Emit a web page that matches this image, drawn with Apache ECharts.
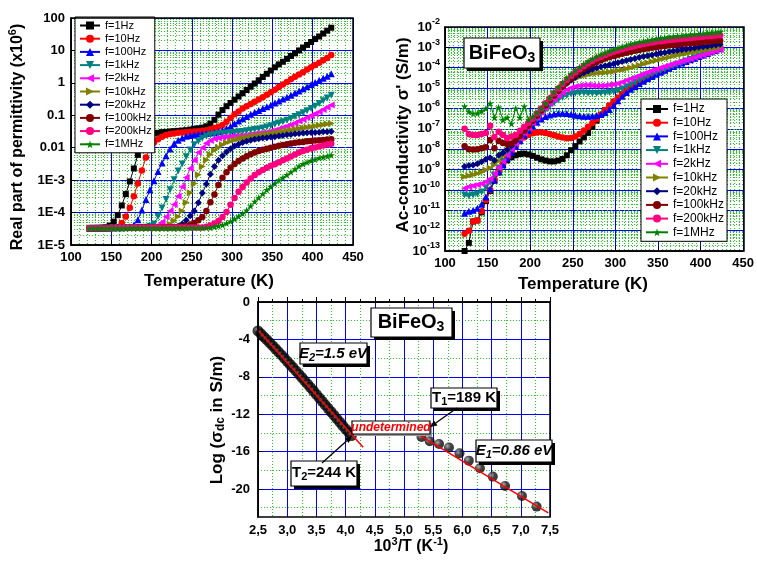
<!DOCTYPE html>
<html><head><meta charset="utf-8">
<script src="https://cdn.jsdelivr.net/npm/echarts/dist/echarts.min.js"></script>
<style>html,body{margin:0;padding:0;background:#fff;}#c{width:757px;height:561px;}</style>
</head><body><div id="c"></div>
<script>
const FONT = '"Liberation Sans", Arial, sans-serif';

// ---------- DATA ----------
// Temperatures (K) shared by the two top panels
const T = [123,128,133,138,143,148,153,158,163,168,173,178,183,188,193,198,203,208,213,218,223,228,233,238,243,248,253,258,263,268,273,278,283,288,293,298,303,308,313,318,323,328,333,338,343,348,353,358,363,368,373,378,383,388,393,398,403,408,413,418,423];
const freqNames = ['f=1Hz','f=10Hz','f=100Hz','f=1kHz','f=2kHz','f=10kHz','f=20kHz','f=100kHz','f=200kHz','f=1MHz'];

// Panel 1: log10 of real permittivity (x10^6)
const eps1Hz = [-4.48,-4.48,-4.47,-4.47,-4.45,-4.40,-4.28,-4.08,-3.78,-3.43,-3.04,-2.64,-2.22,-1.88,-1.70,-1.61,-1.56,-1.54,-1.52,-1.51,-1.50,-1.49,-1.48,-1.47,-1.46,-1.44,-1.42,-1.40,-1.38,-1.34,-1.26,-1.14,-0.98,-0.84,-0.72,-0.62,-0.52,-0.42,-0.32,-0.22,-0.12,-0.02,0.08,0.18,0.28,0.38,0.48,0.57,0.65,0.74,0.83,0.91,1.00,1.09,1.17,1.26,1.35,1.43,1.52,1.61,1.70];
const eps10Hz = [-4.48,-4.48,-4.48,-4.47,-4.47,-4.47,-4.46,-4.45,-4.32,-4.12,-3.85,-3.50,-3.10,-2.70,-2.30,-2.00,-1.84,-1.74,-1.66,-1.61,-1.58,-1.56,-1.54,-1.53,-1.52,-1.51,-1.50,-1.49,-1.48,-1.46,-1.43,-1.39,-1.35,-1.30,-1.20,-1.08,-0.97,-0.88,-0.79,-0.72,-0.65,-0.58,-0.51,-0.44,-0.37,-0.29,-0.21,-0.13,-0.05,0.03,0.11,0.19,0.26,0.33,0.41,0.48,0.55,0.62,0.70,0.77,0.86];
const eps100Hz = [-4.48,-4.48,-4.48,-4.48,-4.48,-4.47,-4.47,-4.47,-4.47,-4.46,-4.44,-4.38,-4.22,-3.92,-3.60,-3.30,-3.02,-2.73,-2.47,-2.25,-2.04,-1.87,-1.77,-1.70,-1.65,-1.62,-1.60,-1.58,-1.57,-1.56,-1.55,-1.53,-1.50,-1.46,-1.41,-1.34,-1.26,-1.18,-1.11,-1.04,-0.97,-0.91,-0.85,-0.79,-0.74,-0.68,-0.62,-0.56,-0.50,-0.44,-0.38,-0.31,-0.25,-0.18,-0.12,-0.05,0.01,0.08,0.14,0.20,0.28];
const eps1kHz = [-4.48,-4.48,-4.48,-4.48,-4.48,-4.48,-4.47,-4.47,-4.47,-4.47,-4.47,-4.46,-4.46,-4.46,-4.45,-4.42,-4.35,-4.12,-3.86,-3.60,-3.30,-2.99,-2.72,-2.50,-2.28,-2.07,-1.91,-1.80,-1.71,-1.65,-1.61,-1.59,-1.57,-1.56,-1.55,-1.54,-1.53,-1.51,-1.50,-1.48,-1.46,-1.44,-1.42,-1.39,-1.36,-1.32,-1.28,-1.24,-1.20,-1.15,-1.10,-1.04,-0.98,-0.92,-0.86,-0.79,-0.72,-0.64,-0.55,-0.47,-0.38];
const eps2kHz = [-4.48,-4.48,-4.48,-4.48,-4.48,-4.47,-4.47,-4.47,-4.47,-4.47,-4.47,-4.46,-4.46,-4.46,-4.46,-4.45,-4.44,-4.40,-4.30,-4.13,-3.95,-3.75,-3.50,-3.20,-2.92,-2.64,-2.39,-2.15,-2.00,-1.86,-1.78,-1.72,-1.70,-1.68,-1.67,-1.66,-1.65,-1.64,-1.63,-1.62,-1.60,-1.58,-1.56,-1.54,-1.52,-1.49,-1.46,-1.42,-1.38,-1.34,-1.29,-1.24,-1.18,-1.13,-1.07,-1.01,-0.95,-0.89,-0.82,-0.75,-0.68];
const eps10kHz = [-4.48,-4.48,-4.48,-4.48,-4.48,-4.48,-4.47,-4.47,-4.47,-4.47,-4.47,-4.47,-4.46,-4.46,-4.46,-4.46,-4.46,-4.45,-4.45,-4.44,-4.36,-4.25,-4.12,-3.95,-3.69,-3.39,-3.10,-2.83,-2.58,-2.38,-2.21,-2.08,-1.99,-1.91,-1.85,-1.80,-1.76,-1.73,-1.70,-1.68,-1.66,-1.64,-1.62,-1.60,-1.58,-1.56,-1.54,-1.52,-1.50,-1.47,-1.45,-1.43,-1.41,-1.39,-1.37,-1.35,-1.33,-1.31,-1.29,-1.27,-1.25];
const eps20kHz = [-4.48,-4.48,-4.48,-4.48,-4.48,-4.48,-4.47,-4.47,-4.47,-4.47,-4.47,-4.47,-4.46,-4.46,-4.46,-4.46,-4.46,-4.46,-4.45,-4.45,-4.45,-4.44,-4.42,-4.35,-4.24,-4.10,-3.95,-3.70,-3.40,-3.12,-2.82,-2.58,-2.39,-2.25,-2.13,-2.03,-1.95,-1.89,-1.84,-1.80,-1.77,-1.74,-1.72,-1.70,-1.69,-1.67,-1.66,-1.64,-1.62,-1.60,-1.59,-1.57,-1.56,-1.55,-1.54,-1.53,-1.53,-1.52,-1.51,-1.51,-1.50];
const eps100kHz = [-4.48,-4.48,-4.48,-4.48,-4.48,-4.48,-4.47,-4.47,-4.47,-4.47,-4.47,-4.47,-4.46,-4.46,-4.46,-4.46,-4.46,-4.46,-4.45,-4.45,-4.45,-4.45,-4.44,-4.43,-4.42,-4.37,-4.32,-4.24,-4.14,-3.95,-3.68,-3.44,-3.15,-2.93,-2.76,-2.62,-2.50,-2.41,-2.33,-2.26,-2.20,-2.15,-2.10,-2.06,-2.03,-2.00,-1.97,-1.94,-1.92,-1.89,-1.87,-1.85,-1.83,-1.82,-1.80,-1.79,-1.78,-1.77,-1.76,-1.75,-1.74];
const eps200kHz = [-4.48,-4.48,-4.48,-4.48,-4.48,-4.48,-4.48,-4.47,-4.47,-4.47,-4.47,-4.47,-4.47,-4.47,-4.47,-4.46,-4.46,-4.46,-4.46,-4.46,-4.46,-4.46,-4.46,-4.46,-4.46,-4.46,-4.46,-4.46,-4.46,-4.44,-4.40,-4.34,-4.26,-4.14,-3.98,-3.76,-3.55,-3.36,-3.21,-3.07,-2.95,-2.84,-2.76,-2.69,-2.62,-2.56,-2.51,-2.45,-2.39,-2.33,-2.27,-2.21,-2.15,-2.10,-2.06,-2.02,-1.99,-1.96,-1.93,-1.90,-1.88];
const eps1MHz = [-4.49,-4.49,-4.49,-4.49,-4.49,-4.49,-4.49,-4.49,-4.49,-4.49,-4.48,-4.48,-4.48,-4.48,-4.48,-4.48,-4.48,-4.48,-4.48,-4.48,-4.48,-4.48,-4.48,-4.48,-4.48,-4.47,-4.47,-4.47,-4.47,-4.47,-4.47,-4.44,-4.41,-4.38,-4.33,-4.27,-4.20,-4.12,-4.03,-3.93,-3.80,-3.66,-3.54,-3.42,-3.30,-3.20,-3.10,-3.00,-2.92,-2.84,-2.75,-2.66,-2.57,-2.50,-2.45,-2.40,-2.36,-2.32,-2.29,-2.26,-2.23];
const epsTickLabels = {'2':'100','1':'10','0':'1','-1':'0.1','-2':'0.01','-3':'1E-3','-4':'1E-4','-5':'1E-5'};

// Panel 2: log10 of ac conductivity (S/m)
const sig1Hz = [-13.0,-12.6,-11.55,-11.5,-11.1,-10.55,-10.05,-9.55,-9.15,-8.8,-8.55,-8.4,-8.3,-8.24,-8.22,-8.26,-8.33,-8.42,-8.5,-8.56,-8.6,-8.6,-8.56,-8.48,-8.3,-8.05,-7.85,-7.62,-7.42,-7.2,-6.9,-6.6,-6.32,-6.08,-5.87,-5.67,-5.48,-5.3,-5.13,-4.98,-4.85,-4.73,-4.62,-4.51,-4.41,-4.31,-4.21,-4.12,-4.03,-3.94,-3.85,-3.77,-3.69,-3.61,-3.53,-3.45,-3.38,-3.3,-3.23,-3.15,-3.08];
const sig10Hz = [-12.15,-12.0,-11.55,-11.5,-11.05,-10.5,-10.0,-9.5,-9.05,-8.7,-8.4,-8.1,-7.85,-7.6,-7.42,-7.3,-7.22,-7.18,-7.17,-7.2,-7.25,-7.32,-7.38,-7.43,-7.46,-7.45,-7.38,-7.25,-7.08,-6.9,-6.72,-6.52,-6.3,-6.07,-5.86,-5.66,-5.47,-5.29,-5.12,-4.97,-4.84,-4.72,-4.61,-4.5,-4.4,-4.3,-4.2,-4.11,-4.02,-3.93,-3.84,-3.76,-3.68,-3.6,-3.52,-3.44,-3.37,-3.29,-3.22,-3.14,-3.07];
const sig100Hz = [-11.15,-11.05,-11.0,-10.9,-10.7,-10.35,-9.95,-9.5,-9.1,-8.75,-8.45,-8.15,-7.85,-7.58,-7.32,-7.08,-6.86,-6.68,-6.52,-6.4,-6.32,-6.27,-6.24,-6.23,-6.25,-6.29,-6.33,-6.36,-6.38,-6.38,-6.37,-6.35,-6.3,-6.2,-6.05,-5.85,-5.62,-5.4,-5.22,-5.06,-4.92,-4.78,-4.66,-4.54,-4.43,-4.32,-4.22,-4.12,-4.03,-3.94,-3.85,-3.77,-3.69,-3.61,-3.53,-3.45,-3.37,-3.3,-3.22,-3.14,-3.07];
const sig1kHz = [-10.25,-10.3,-10.25,-10.2,-10.1,-9.9,-9.62,-9.28,-8.92,-8.6,-8.3,-8.0,-7.74,-7.48,-7.23,-6.98,-6.74,-6.5,-6.28,-6.08,-5.9,-5.73,-5.58,-5.46,-5.36,-5.29,-5.25,-5.24,-5.24,-5.25,-5.26,-5.26,-5.25,-5.24,-5.22,-5.18,-5.12,-5.04,-4.94,-4.84,-4.73,-4.62,-4.52,-4.42,-4.32,-4.23,-4.15,-4.07,-3.99,-3.91,-3.83,-3.75,-3.67,-3.59,-3.51,-3.44,-3.36,-3.29,-3.21,-3.14,-3.07];
const sig2kHz = [-9.92,-9.85,-9.8,-9.75,-9.7,-9.6,-9.45,-9.2,-8.9,-8.6,-8.3,-8.0,-7.72,-7.46,-7.2,-6.95,-6.7,-6.45,-6.2,-5.98,-5.76,-5.56,-5.38,-5.22,-5.08,-4.98,-4.92,-4.88,-4.86,-4.86,-4.87,-4.88,-4.88,-4.87,-4.85,-4.82,-4.77,-4.7,-4.62,-4.54,-4.46,-4.38,-4.3,-4.22,-4.14,-4.07,-4.0,-3.93,-3.86,-3.8,-3.74,-3.68,-3.62,-3.56,-3.5,-3.43,-3.37,-3.3,-3.24,-3.17,-3.1];
const sig10kHz = [-9.35,-9.3,-9.25,-9.2,-9.12,-9.02,-8.92,-8.78,-8.58,-8.34,-8.08,-7.82,-7.56,-7.3,-7.05,-6.8,-6.55,-6.3,-6.05,-5.8,-5.57,-5.35,-5.15,-4.96,-4.8,-4.66,-4.55,-4.46,-4.39,-4.34,-4.3,-4.27,-4.25,-4.23,-4.21,-4.18,-4.14,-4.1,-4.05,-4.0,-3.94,-3.88,-3.82,-3.76,-3.7,-3.64,-3.58,-3.53,-3.48,-3.43,-3.38,-3.34,-3.3,-3.26,-3.22,-3.18,-3.14,-3.1,-3.06,-3.02,-2.98];
const sig20kHz = [-8.85,-8.8,-8.78,-8.72,-8.62,-8.5,-8.42,-8.55,-8.3,-8.18,-8.02,-7.84,-7.6,-7.35,-7.1,-6.85,-6.6,-6.35,-6.1,-5.85,-5.6,-5.37,-5.15,-4.95,-4.77,-4.61,-4.47,-4.35,-4.25,-4.16,-4.08,-4.01,-3.95,-3.9,-3.85,-3.8,-3.75,-3.7,-3.65,-3.6,-3.55,-3.5,-3.45,-3.41,-3.37,-3.33,-3.29,-3.25,-3.21,-3.18,-3.15,-3.12,-3.09,-3.06,-3.03,-3.0,-2.97,-2.94,-2.91,-2.88,-2.85];
const sig100kHz = [-7.85,-8.0,-8.02,-8.0,-7.96,-7.9,-7.55,-7.95,-7.6,-7.7,-7.75,-7.72,-7.55,-7.35,-7.1,-6.85,-6.6,-6.35,-6.1,-5.85,-5.6,-5.37,-5.14,-4.92,-4.72,-4.53,-4.36,-4.2,-4.06,-3.93,-3.82,-3.72,-3.63,-3.55,-3.48,-3.42,-3.36,-3.31,-3.26,-3.21,-3.17,-3.13,-3.09,-3.05,-3.02,-2.99,-2.96,-2.93,-2.9,-2.88,-2.86,-2.84,-2.82,-2.8,-2.78,-2.76,-2.74,-2.72,-2.7,-2.68,-2.66];
const sig200kHz = [-7.0,-7.25,-7.3,-7.3,-7.25,-7.2,-6.85,-7.4,-7.15,-7.3,-7.45,-7.38,-7.3,-7.1,-6.9,-6.7,-6.5,-6.25,-6.0,-5.75,-5.5,-5.25,-5.02,-4.8,-4.59,-4.4,-4.22,-4.06,-3.91,-3.78,-3.66,-3.55,-3.46,-3.37,-3.29,-3.22,-3.15,-3.09,-3.03,-2.98,-2.93,-2.88,-2.84,-2.8,-2.76,-2.73,-2.7,-2.67,-2.64,-2.62,-2.6,-2.58,-2.56,-2.54,-2.52,-2.5,-2.48,-2.46,-2.44,-2.42,-2.4];
const sig1MHz = [-5.9,-6.15,-6.25,-6.24,-6.12,-6.0,-5.75,-6.45,-5.95,-6.55,-6.45,-6.75,-6.0,-6.45,-5.9,-6.55,-6.4,-6.2,-6.0,-5.75,-5.48,-5.2,-4.95,-4.72,-4.5,-4.3,-4.12,-3.96,-3.81,-3.68,-3.56,-3.45,-3.35,-3.26,-3.18,-3.1,-3.03,-2.96,-2.9,-2.84,-2.79,-2.74,-2.7,-2.66,-2.62,-2.58,-2.55,-2.52,-2.49,-2.46,-2.44,-2.42,-2.4,-2.38,-2.36,-2.34,-2.32,-2.3,-2.28,-2.26,-2.24];

// Panel 3: Arrhenius plot
const dcHighX = [2.50,2.55,2.60,2.65,2.70,2.75,2.80,2.85,2.90,2.95,3.00,3.05,3.10,3.15,3.20,3.25,3.30,3.35,3.40,3.45,3.50,3.55,3.60,3.65,3.70,3.75,3.80,3.85,3.90,3.95,4.00,4.05,4.10];
const dcHighY = [-3.1,-3.4,-3.72,-4.03,-4.35,-4.67,-5.0,-5.33,-5.66,-6.0,-6.34,-6.68,-7.02,-7.37,-7.72,-8.07,-8.43,-8.79,-9.15,-9.52,-9.89,-10.26,-10.63,-11.0,-11.37,-11.74,-12.11,-12.48,-12.85,-13.22,-13.58,-13.93,-14.28];
const dcLowX = [5.30,5.44,5.60,5.77,5.95,6.11,6.30,6.52,6.73,7.02,7.27];
const dcLowY = [-14.45,-14.9,-15.19,-15.57,-16.19,-16.97,-17.79,-18.68,-19.68,-20.75,-21.89];
const fitHighX = [2.5, 4.3], fitHighY = [-3.0, -15.55];
const fitLowX = [5.2, 7.47], fitLowY = [-14.0, -22.55];
const yTicks3 = [0,-4,-8,-12,-16,-20];
const yMinor3 = [-2,-6,-10,-14,-18,-22];
const xTickLabels3 = ['2,5','3,0','3,5','4,0','4,5','5,0','5,5','6,0','6,5','7,0','7,5'];

// ---------- STYLE ----------
const COLORS = ['#000000','#ff0000','#0000ff','#008080','#ff00ff','#808000','#000080','#800000','#ff0080','#008000'];
const STAR = 'path://M50,0 L61,35 L98,35 L68,57 L79,91 L50,70 L21,91 L32,57 L2,35 L39,35 Z';
const SYMB = ['rect','circle','triangle','triangle','triangle','triangle','diamond','circle','circle',STAR];
const ROT = [0,0,0,180,90,-90,0,0,0,0];
const SIZE = [6,6.5,7,7,7,7,7,6.5,6.5,7.5];
const BLUE = '#0000ff', GREEN = '#22cc22';

const epsSets = [eps1Hz,eps10Hz,eps100Hz,eps1kHz,eps2kHz,eps10kHz,eps20kHz,eps100kHz,eps200kHz,eps1MHz];
const sigSets = [sig1Hz,sig10Hz,sig100Hz,sig1kHz,sig2kHz,sig10kHz,sig20kHz,sig100kHz,sig200kHz,sig1MHz];

function mk(g, k, logs){
  return {type:'line', name:freqNames[k], xAxisIndex:g, yAxisIndex:g,
    data: T.map((t,i)=>[t, Math.pow(10, logs[i])]),
    symbol:SYMB[k], symbolRotate:ROT[k], symbolSize:SIZE[k], showSymbol:true,
    lineStyle:{width:1, color:COLORS[k]}, itemStyle:{color:COLORS[k]},
    emphasis:{disabled:true}, animation:false, clip:true};
}
const series = [];
epsSets.forEach((a,k)=>series.push(mk(0,k,a)));
sigSets.forEach((a,k)=>series.push(mk(1,k,a)));
const bandFill = {type:'radial', x:0.35, y:0.35, r:0.7, colorStops:[{offset:0,color:'#6a6a6a'},{offset:0.35,color:'#0c0c0c'},{offset:1,color:'#000'}]};
const ballFill = {type:'radial', x:0.35, y:0.35, r:0.75, colorStops:[{offset:0,color:'#9a9a9a'},{offset:0.45,color:'#151515'},{offset:1,color:'#000'}]};
series.push({type:'scatter', name:'dcHigh', xAxisIndex:2, yAxisIndex:2, data: dcHighX.map((x,i)=>[x,dcHighY[i]]), symbol:'circle', symbolSize:11, itemStyle:{color:bandFill}, animation:false, emphasis:{disabled:true}});
series.push({type:'scatter', name:'dcLow', xAxisIndex:2, yAxisIndex:2, data: dcLowX.map((x,i)=>[x,dcLowY[i]]), symbol:'circle', symbolSize:10, itemStyle:{color:ballFill}, animation:false, emphasis:{disabled:true}});
series.push({type:'line', name:'fitHigh', xAxisIndex:2, yAxisIndex:2, data: fitHighX.map((x,i)=>[x,fitHighY[i]]), showSymbol:false, symbol:'none', lineStyle:{color:'#ff0000', width:1.5}, animation:false, z:5});
series.push({type:'line', name:'fitLow', xAxisIndex:2, yAxisIndex:2, data: fitLowX.map((x,i)=>[x,fitLowY[i]]), showSymbol:false, symbol:'none', lineStyle:{color:'#ff0000', width:1.5}, animation:false, z:5});

const lab = {color:'#000', fontFamily:FONT, fontWeight:'bold', fontSize:13};
const axLine = {show:true, lineStyle:{color:'#000', width:1.5}};
const split = {show:true, lineStyle:{color:BLUE, width:1}};
const minor = {show:true, lineStyle:{color:GREEN, width:1, type:[1,2]}};

const option = {
  backgroundColor:'#fff',
  animation:false,
  grid:[
    {left:71, top:18, width:282, height:227},
    {left:445, top:27, width:299, height:224},
    {left:258, top:302, width:292, height:215}
  ],
  xAxis:[
    {gridIndex:0, type:'value', min:100, max:450, interval:50, axisLine:axLine,
     axisTick:{inside:true, length:5, lineStyle:{color:'#000'}}, minorTick:{show:false, splitNumber:5},
     axisLabel:{...lab, margin:6}, splitLine:split, minorSplitLine:minor},
    {gridIndex:1, type:'value', min:100, max:450, interval:50, axisLine:axLine,
     axisTick:{inside:true, length:5, lineStyle:{color:'#000'}}, minorTick:{show:false, splitNumber:10},
     axisLabel:{...lab, margin:6}, splitLine:split, minorSplitLine:minor},
    {gridIndex:2, type:'value', min:2.5, max:7.5, interval:0.5, axisLine:axLine,
     axisTick:{inside:true, length:5, lineStyle:{color:'#000'}}, minorTick:{show:true, splitNumber:2, length:3, lineStyle:{color:'#000'}},
     axisLabel:{...lab, margin:7, formatter:(v)=>xTickLabels3[Math.round((v-2.5)/0.5)]||''}, splitLine:split, minorSplitLine:minor}
  ],
  yAxis:[
    {gridIndex:0, type:'log', logBase:10, min:1e-5, max:100, interval:1, axisLine:axLine,
     axisTick:{inside:true, length:5, lineStyle:{color:'#000'}}, minorTick:{show:false, splitNumber:9},
     axisLabel:{...lab, margin:6, formatter:(v)=>epsTickLabels[String(Math.round(Math.log10(v)))]||''},
     splitLine:split, minorSplitLine:minor},
    {gridIndex:1, type:'log', logBase:10, min:1e-13, max:1e-2, interval:1, axisLine:axLine,
     axisTick:{inside:true, length:5, lineStyle:{color:'#000'}}, minorTick:{show:false, splitNumber:9},
     axisLabel:{margin:5, formatter:(v)=>'{b|10}{s|'+Math.round(Math.log10(v))+'}',
       rich:{b:{fontFamily:FONT,fontWeight:'bold',fontSize:13,color:'#000',verticalAlign:'middle'},
             s:{fontFamily:FONT,fontWeight:'bold',fontSize:9,color:'#000',verticalAlign:'middle',padding:[0,0,10,0]}}},
     splitLine:split, minorSplitLine:minor},
    {gridIndex:2, type:'value', min:-23, max:0, axisLine:axLine,
     axisTick:{inside:true, length:5, lineStyle:{color:'#000'}, customValues:yTicks3},
     axisLabel:{...lab, margin:8, customValues:yTicks3},
     splitLine:split},
    {gridIndex:2, type:'value', min:-23, max:0, position:'left', axisLine:{show:false},
     axisTick:{show:false, customValues:yMinor3}, axisLabel:{show:false, customValues:yMinor3},
     splitLine:minor}
  ],
  legend:[
    {show:true, orient:'vertical', left:75, top:17, data:freqNames, backgroundColor:'#fff', borderColor:'#000', borderWidth:1,
     padding:[3,3,3,4], itemGap:2.2, itemWidth:20, itemHeight:10, selectedMode:false,
     textStyle:{fontFamily:FONT, fontSize:11, color:'#000'}},
    {show:true, orient:'vertical', left:641, top:99, data:freqNames, backgroundColor:'#fff', borderColor:'#000', borderWidth:1,
     padding:[4,3,3,4], itemGap:1.7, itemWidth:22, itemHeight:10, selectedMode:false,
     textStyle:{fontFamily:FONT, fontSize:12, color:'#000'}}
  ],
  series: series
};

// text boxes, titles and frames
function shadowBox(x,y,w,h,off,shadowColor){
  return [
    {type:'rect', z:100, shape:{x:x+off,y:y+off,width:w,height:h}, style:{fill:shadowColor||'#000'}},
    {type:'rect', z:101, shape:{x:x,y:y,width:w,height:h}, style:{fill:'#fff', stroke:'#000', lineWidth:1.2}}
  ];
}
function txt(x,y,text,rich,extra){
  return Object.assign({type:'text', z:102, x:x, y:y, style:{text:text, rich:rich, align:'center', verticalAlign:'middle', fill:'#000',
    fontFamily:FONT, fontWeight:'bold', fontSize:16}}, extra||{});
}
function arrow(x1,y1,x2,y2){
  const a = Math.atan2(y2-y1, x2-x1), L=7, W=3;
  const bx = x2 - L*Math.cos(a), by = y2 - L*Math.sin(a);
  return [
    {type:'line', z:103, shape:{x1:x1,y1:y1,x2:bx,y2:by}, style:{stroke:'#000', lineWidth:1.3}},
    {type:'polygon', z:103, shape:{points:[[x2,y2],[bx - W*Math.sin(a), by + W*Math.cos(a)],[bx + W*Math.sin(a), by - W*Math.cos(a)]]}, style:{fill:'#000'}}
  ];
}
const R = (fs, bold, italic, color) => ({fontFamily:FONT, fontSize:fs, fontWeight:bold?'bold':'normal', fontStyle:italic?'italic':'normal', fill:color||'#000', verticalAlign:'middle'});
const sup = (fs, up, italic) => Object.assign(R(fs,true,italic), {padding:[0,0,up*2,0]});
const sub = (fs, dn, italic, color) => Object.assign(R(fs,true,italic,color), {padding:[dn*2,0,0,0]});

const frames = [
  {type:'rect', z:90, shape:{x:71,y:18,width:282,height:227}, style:{fill:'none', stroke:'#000', lineWidth:1.5}},
  {type:'rect', z:90, shape:{x:445,y:27,width:299,height:224}, style:{fill:'none', stroke:'#000', lineWidth:1.5}},
  {type:'rect', z:90, shape:{x:258,y:302,width:292,height:215}, style:{fill:'none', stroke:'#000', lineWidth:1.5}}
];

const g = [].concat(
  frames,
  [txt(18,137,'{a|Real part of permittivity (x10}{s|6}{a|)}', {a:R(16,true), s:sup(11,5)}, {rotation:Math.PI/2})],
  [txt(209,281,'{a|Temperature (K)}', {a:R(17,true)})],
  [txt(403,135,'{a|Ac-conductivity σ\' (S/m)}', {a:R(17,true)}, {rotation:Math.PI/2})],
  [txt(583,284,'{a|Temperature (K)}', {a:R(17,true)})],
  [txt(217,420,'{a|Log (σ}{d|dc}{a| in S/m)}', {a:R(17,true), d:sub(12,4)}, {rotation:Math.PI/2})],
  [txt(411,547,'{a|10}{s|3}{a|/T (K}{s|-1}{a|)}', {a:R(16,true), s:sup(11,5)})],
  shadowBox(464,38,76,30,3),
  [txt(502,53,'{a|BiFeO}{d|3}', {a:R(20,true), d:sub(14,5)})],
  shadowBox(371,308,81,29,3),
  [txt(411,322,'{a|BiFeO}{d|3}', {a:R(20,true), d:sub(14,5)})],
  shadowBox(300,343,67,21,3),
  [txt(333,354,'{a|E}{d|2}{a|=1.5 eV}', {a:R(15,true,true), d:sub(11,4,true)})],
  shadowBox(431,388,66,20,3),
  [txt(464,398,'{a|T}{d|1}{a|=189 K}', {a:R(15,true), d:sub(11,4)})],
  shadowBox(352,421,78,13,2,'#999'),
  [txt(391,428,'{a|undetermined}', {a:R(12,true,true,'#ff0000')})],
  shadowBox(291,461,66,25,3),
  [txt(324,473,'{a|T}{d|2}{a|=244 K}', {a:R(15,true), d:sub(11,4)})],
  shadowBox(476,440,76,22,3),
  [txt(514,451,'{a|E}{d|1}{a|=0.86 eV}', {a:R(15,true,true), d:sub(11,4,true)})],
  arrow(457,408,430,427),
  arrow(322,463,352,436)
);
option.graphic = {elements: g};

const chart = echarts.init(document.getElementById('c'), null, {renderer:'canvas', width:757, height:561});
chart.setOption(option);
</script></body></html>
